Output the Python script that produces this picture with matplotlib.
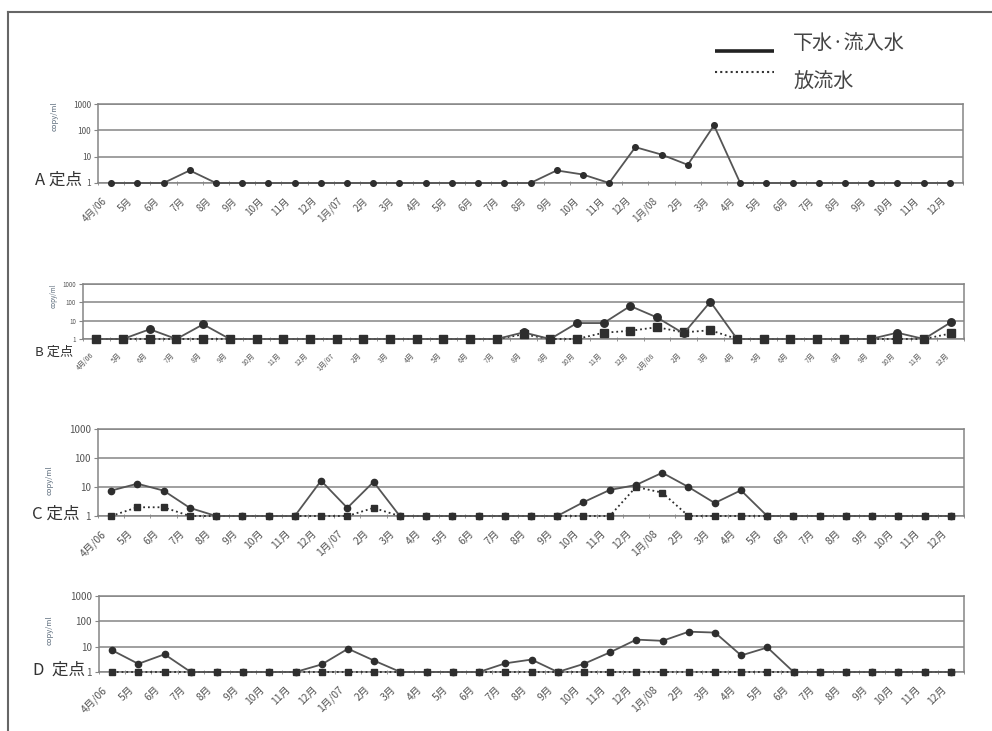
import matplotlib
matplotlib.use("Agg")
import matplotlib.pyplot as plt
from matplotlib.lines import Line2D
from matplotlib.transforms import ScaledTranslation
import numpy as np

plt.rcParams['font.family'] = ['Noto Sans CJK JP', 'DejaVu Sans']

# Sampling months, April 2006 - December 2008
months = ["4月/06", "5月", "6月", "7月", "8月", "9月", "10月", "11月", "12月",
          "1月/07", "2月", "3月", "4月", "5月", "6月", "7月", "8月", "9月",
          "10月", "11月", "12月", "1月/08", "2月", "3月", "4月", "5月", "6月",
          "7月", "8月", "9月", "10月", "11月", "12月"]

# copy/ml at each site: inflow (下水・流入水) and effluent (放流水)
a_inflow = [1, 1, 1, 3, 1, 1, 1, 1, 1, 1, 1, 1, 1, 1, 1, 1, 1,
            3, 2.1, 1, 23, 12, 4.9, 154, 1, 1, 1, 1, 1, 1, 1, 1, 1]

b_inflow = [1, 1, 3.4, 1, 6.3, 1, 1, 1, 1, 1, 1, 1, 1, 1, 1, 1,
            2.3, 1, 7.4, 7.4, 63, 15, 2.0, 108, 1, 1, 1, 1, 1, 1, 2.2, 1, 8]
b_effluent = [1, 1, 1, 1, 1, 1, 1, 1, 1, 1, 1, 1, 1, 1, 1, 1,
              1.8, 1, 1, 2.2, 2.8, 4.4, 2.3, 3, 1, 1, 1, 1, 1, 1, 1, 1, 2]

c_inflow = [7.5, 13, 7.5, 1.9, 1, 1, 1, 1, 16.5, 1.9, 15, 1, 1, 1, 1, 1, 1,
            1, 3.0, 7.9, 11.7, 31, 10, 2.8, 7.7, 1, 1, 1, 1, 1, 1, 1, 1]
c_effluent = [1, 2, 2, 1, 1, 1, 1, 1, 1, 1, 1.9, 1, 1, 1, 1, 1, 1,
              1, 1, 1, 10, 6.4, 1, 1, 1, 1, 1, 1, 1, 1, 1, 1, 1]

d_inflow = [7.2, 2.1, 5, 1, 1, 1, 1, 1, 2, 8.3, 2.8, 1, 1, 1, 1, 2.2, 3.1,
            1, 2.1, 6, 19, 17, 39, 36, 4.5, 9.3, 1, 1, 1, 1, 1, 1, 1]
d_effluent = [1] * 33

panels = [
    ("A 定点", a_inflow, None),
    ("B 定点", b_inflow, b_effluent),
    ("C 定点", c_inflow, c_effluent),
    ("D  定点", d_inflow, d_effluent),
]

W, H = 992, 731
fig = plt.figure(figsize=(W / 100, H / 100), dpi=100)
fig.patch.set_facecolor('white')

# pixel boxes (left, top, right, bottom) and per-panel text sizes
boxes = [(98, 104, 963, 183), (83, 284, 964, 339),
         (98, 429, 964, 516), (99, 596, 964, 672)]
tick_fs = [7, 5, 7.5, 7.5]
ytick_fs = [6, 4.5, 7, 7]
title_fs = [12, 9.5, 12, 12]
msize = [4.5, 6, 5, 5]
title_pos = [(35, 180), (35, 352), (32, 514), (33, 670)]
ylabel_pos = [(59, 116), (58, 296), (54, 480), (54, 630)]
label_shift = [-10, -6, -10, -10]

line_col = '#555555'
mark_col = '#2e2e2e'
grid_col = '#858585'
text_col = '#555555'

x = np.arange(len(months))

for i, (name, inflow, effluent) in enumerate(panels):
    l, t, r, b = boxes[i]
    ax = fig.add_axes([l / W, 1 - b / H, (r - l) / W, (b - t) / H])
    ax.set_yscale('log')
    ax.set_ylim(1, 1000)
    ax.set_xlim(-0.5, len(months) - 0.5)

    if effluent is not None:
        ax.plot(x, effluent, linestyle=':', color=mark_col, lw=1.3,
                marker='s', ms=msize[i], mfc=mark_col, mec=mark_col,
                clip_on=False, zorder=3)
    ax.plot(x, inflow, linestyle='-', color=line_col, lw=1.3,
            marker='o', ms=msize[i] * 0.9, mfc=mark_col, mec=mark_col,
            clip_on=False, zorder=4)

    ax.set_yticks([1, 10, 100, 1000])
    ax.set_yticklabels(["1", "10", "100", "1000"], fontsize=ytick_fs[i],
                       color=text_col)
    ax.yaxis.set_minor_locator(matplotlib.ticker.NullLocator())
    ax.tick_params(axis='y', length=3, color=grid_col, pad=2)
    ax.grid(axis='y', which='major', color=grid_col, lw=1.1)

    ax.set_xticks(x)
    ax.set_xticklabels(months, rotation=45, ha='right',
                       rotation_mode='anchor', fontsize=tick_fs[i],
                       color=text_col)
    ax.set_xticks(np.arange(-0.5, len(months)), minor=True)
    ax.tick_params(axis='x', which='major', length=0, pad=9)
    ax.tick_params(axis='x', which='minor', length=3, direction='inout',
                   color=grid_col)
    shift = ScaledTranslation(label_shift[i] / 100, 0, fig.dpi_scale_trans)
    for lab in ax.get_xticklabels():
        lab.set_transform(lab.get_transform() + shift)

    for s in ax.spines.values():
        s.set_color(grid_col)
        s.set_linewidth(1.1)

    ax.set_ylabel("copy/ml", fontsize=4.5 if i == 1 else 5.5,
                  color='#5a6a7a')
    lx, ly = ylabel_pos[i]
    ax.yaxis.set_label_coords((lx - l) / (r - l), (b - ly) / (b - t))

    tx, ty = title_pos[i]
    fig.text(tx / W, 1 - ty / H, name, fontsize=title_fs[i], color='#333333',
             ha='left', va='center')

# legend key
fig.add_artist(Line2D([715 / W, 774 / W], [1 - 51 / H, 1 - 51 / H],
                      color='#222222', lw=2.6, solid_capstyle='butt'))
fig.add_artist(Line2D([715 / W, 774 / W], [1 - 72 / H, 1 - 72 / H],
                      color='#333333', lw=1.5, linestyle=(0, (1, 1.5))))
fig.text(793 / W, 1 - 43 / H, "下水·流入水", fontsize=14.5, color='#444444',
         ha='left', va='center')
fig.text(793 / W, 1 - 82 / H, "放流水", fontsize=14.5, color='#444444',
         ha='left', va='center')

# outer frame
fig.add_artist(Line2D([8 / W, 1.0], [1 - 12 / H, 1 - 12 / H],
                      color='#666666', lw=1.5))
fig.add_artist(Line2D([8 / W, 8 / W], [1 - 12 / H, 0.0],
                      color='#666666', lw=1.5))

fig.savefig("out.png", dpi=100, facecolor='white')
